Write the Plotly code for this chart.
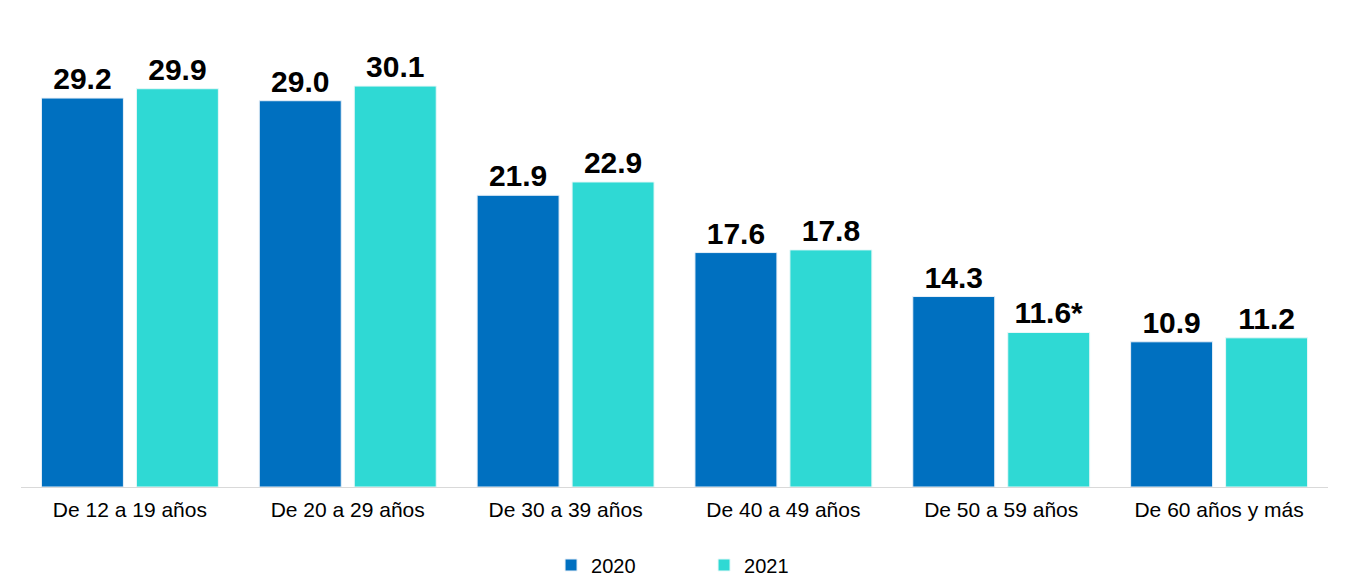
import plotly.graph_objects as go

categories = ["De 12 a 19 años", "De 20 a 29 años", "De 30 a 39 años",
              "De 40 a 49 años", "De 50 a 59 años", "De 60 años y más"]
values_2020 = [29.2, 29.0, 21.9, 17.6, 14.3, 10.9]
values_2021 = [29.9, 30.1, 22.9, 17.8, 11.6, 11.2]
labels_2020 = ["29.2", "29.0", "21.9", "17.6", "14.3", "10.9"]
labels_2021 = ["29.9", "30.1", "22.9", "17.8", "11.6*", "11.2"]

label_font = dict(family="Liberation Sans, Arial, sans-serif", size=30, color="black", weight="bold")

fig = go.Figure()
fig.add_trace(go.Bar(
    name="2020", x=categories, y=values_2020, text=labels_2020,
    textposition="outside", cliponaxis=False, textfont=label_font,
    marker=dict(color="#0070C0", line=dict(color="#E8F0F8", width=1)),
))
fig.add_trace(go.Bar(
    name="2021", x=categories, y=values_2021, text=labels_2021,
    textposition="outside", cliponaxis=False, textfont=label_font,
    marker=dict(color="#2FD9D4", line=dict(color="#E8F8F8", width=1)),
))

fig.update_layout(
    width=1351, height=583,
    margin=dict(l=13, r=31, t=12, b=104, autoexpand=False),
    paper_bgcolor="white", plot_bgcolor="white",
    barmode="group", bargap=0.128, bargroupgap=0.137,
    font=dict(family="Liberation Sans, Arial, sans-serif", color="black"),
    showlegend=True,
    legend=dict(orientation="h", x=0.5152, xanchor="center", xref="container",
                y=0.0446, yref="container", yanchor="middle",
                font=dict(size=20, color="black"), entrywidth=108, entrywidthmode="pixels"),
    xaxis=dict(showline=True, linecolor="#D9D9D9", linewidth=1, ticks="",
               tickfont=dict(size=21, color="black"), showgrid=False, automargin=False,
               ticklabelstandoff=4),
    yaxis=dict(range=[0, 35.06], visible=False, showgrid=False, zeroline=False, automargin=False),
)
fig.update_traces(textangle=0)

fig.write_html("out.html")
